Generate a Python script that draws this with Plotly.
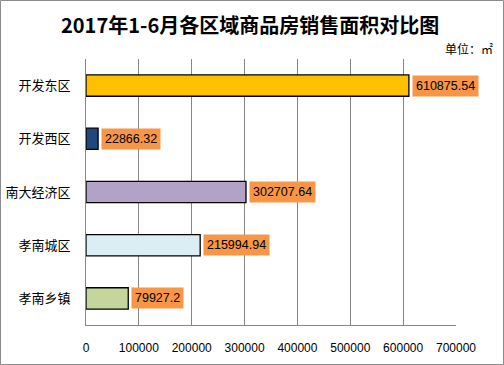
import plotly.graph_objects as go

categories = ["开发东区", "开发西区", "南大经济区", "孝南城区", "孝南乡镇"]
values = [610875.54, 22866.32, 302707.64, 215994.94, 79927.2]
value_labels = ["610875.54", "22866.32", "302707.64", "215994.94", "79927.2"]
bar_colors = ["#FFC000", "#1F497D", "#B3A2C7", "#DAEEF3", "#C3D69B"]
x_ticks = [0, 100000, 200000, 300000, 400000, 500000, 600000, 700000]

W, H = 504, 365
L, R, T, B = 86, 48, 59, 40
pw, ph = W - L - R, H - T - B

fig = go.Figure()
fig.add_trace(go.Bar(
    x=values, y=categories, orientation="h",
    marker=dict(color=bar_colors, line=dict(color="#000000", width=1.3)),
    width=0.4, hoverinfo="skip",
))

for c, v, t in zip(categories, values, value_labels):
    fig.add_annotation(
        x=v, y=c, xref="x", yref="y", text=t, showarrow=False,
        xanchor="left", yanchor="middle", xshift=3,
        bgcolor="#F79646", borderpad=3,
        font=dict(family="Liberation Sans, Arial", size=12.5, color="#000000"),
    )

fig.add_annotation(
    x=(250 - L) / pw, y=(H - B - 24) / ph, xref="paper", yref="paper",
    text="<b>2017年1-6月各区域商品房销售面积对比图</b>", showarrow=False,
    xanchor="center", yanchor="middle",
    font=dict(family="Noto Sans CJK SC", size=20, color="#000000"),
)
fig.add_annotation(
    x=(495 - L) / pw, y=(H - B - 48) / ph, xref="paper", yref="paper",
    text="单位：㎡", showarrow=False, xanchor="right", yanchor="middle",
    font=dict(family="Noto Sans CJK SC", size=12, color="#000000"),
)

fig.add_shape(
    type="rect", xref="paper", yref="paper",
    x0=(0.5 - L) / pw, x1=(W - 0.5 - L) / pw,
    y0=-(B - 0.5) / ph, y1=(H - B - 0.5) / ph,
    line=dict(color="#8C8C8C", width=1), fillcolor="rgba(0,0,0,0)", layer="below",
)

fig.update_layout(
    width=W, height=H,
    margin=dict(l=L, r=R, t=T, b=B, pad=0, autoexpand=False),
    paper_bgcolor="#FFFFFF", plot_bgcolor="#FFFFFF",
    showlegend=False,
    xaxis=dict(
        range=[0, 700000], tickvals=x_ticks, ticktext=[str(t) for t in x_ticks],
        showgrid=True, gridcolor="#868686", gridwidth=1,
        showline=True, linecolor="#868686", linewidth=1,
        zeroline=False, ticks="", ticklabelstandoff=12, automargin=False,
        tickfont=dict(family="Liberation Sans, Arial", size=12, color="#000000"),
        fixedrange=True,
    ),
    yaxis=dict(
        autorange="reversed", showgrid=False,
        showline=True, linecolor="#868686", linewidth=1,
        ticks="", ticklabelstandoff=12, automargin=False,
        tickfont=dict(family="Noto Sans CJK SC", size=13, color="#000000"),
        fixedrange=True,
    ),
)

fig.write_html(
    "out.html",
    config={"displayModeBar": False},
    post_script="document.body.style.margin='0';document.body.style.padding='0';",
)
